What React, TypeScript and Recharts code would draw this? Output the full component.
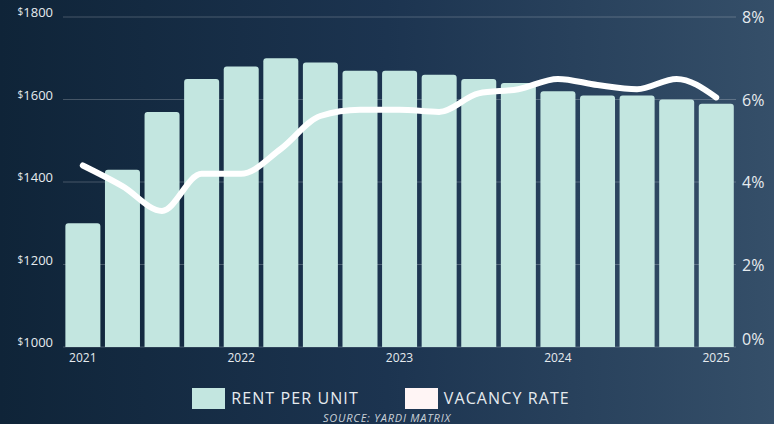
import { ComposedChart, Bar, Line, XAxis, YAxis, CartesianGrid, Legend } from "recharts";

// quarterly, 2021 Q1 .. 2025 Q1
const quarters = [
  "2021 Q1", "2021 Q2", "2021 Q3", "2021 Q4",
  "2022 Q1", "2022 Q2", "2022 Q3", "2022 Q4",
  "2023 Q1", "2023 Q2", "2023 Q3", "2023 Q4",
  "2024 Q1", "2024 Q2", "2024 Q3", "2024 Q4",
  "2025 Q1",
];
const rentPerUnit = [1300, 1430, 1570, 1650, 1680, 1700, 1690, 1670, 1670, 1660, 1650, 1640, 1620, 1610, 1610, 1600, 1590];
const vacancyRate = [4.4, 3.9, 3.3, 4.2, 4.2, 4.8, 5.6, 5.75, 5.75, 5.7, 6.15, 6.25, 6.5, 6.35, 6.25, 6.5, 6.05];

const rentTicks = [1000, 1200, 1400, 1600, 1800];
const vacancyTicks = [0, 2, 4, 6, 8];

const FONT = "'Open Sans', sans-serif";
const TEXT = "#e6ebef";
const BAR_COLOR = "#c3e6e0";

const LEGEND_ITEMS = [
  { label: "RENT PER UNIT", color: BAR_COLOR },
  { label: "VACANCY RATE", color: "#fff5f5" },
];

const data = quarters.map((q, i) => ({
  quarter: q,
  rent: rentPerUnit[i],
  vacancy: vacancyRate[i],
}));

const RentTick = ({ x, y, payload }: any) => (
  <text x={x} y={y} dy={5} textAnchor="end" fill={TEXT} fontFamily={FONT}>
    <tspan fontSize={10} dy={-2}>$</tspan>
    <tspan fontSize={13} dy={2}>{payload.value}</tspan>
  </text>
);

const VacancyTick = ({ x, y, payload }: any) => (
  <text x={x} y={payload.value === 0 ? y - 8 : y} dy={6} textAnchor="start" fill={TEXT} fontFamily={FONT} fontSize={16}>
    {payload.value}%
  </text>
);

const LegendContent = () => (
  <div style={{ height: 47, boxSizing: "border-box", paddingTop: 10, fontFamily: FONT, color: TEXT, textAlign: "center", overflow: "hidden" }}>
    <div style={{ display: "flex", justifyContent: "center", gap: 46, height: 22, alignItems: "center", marginLeft: -12 }}>
      {LEGEND_ITEMS.map((item) => (
        <div key={item.label} style={{ display: "flex", alignItems: "center", gap: 6 }}>
          <span style={{ width: 33, height: 21, background: item.color, display: "inline-block" }} />
          <span style={{ fontSize: 16, letterSpacing: 1.1 }}>{item.label}</span>
        </div>
      ))}
    </div>
    <div style={{ fontSize: 11, fontStyle: "italic", letterSpacing: 0.8, color: "#c9d1d8", lineHeight: "14px", marginTop: 2 }}>
      SOURCE: YARDI MATRIX
    </div>
  </div>
);

export default function App() {
  return (
    <div
      style={{
        position: "absolute",
        top: 0,
        left: 0,
        width: 774,
        height: 424,
        background: "linear-gradient(90deg, #0f2438 0%, #1c3450 50%, #354f69 100%)",
      }}
    >
      <ComposedChart width={774} height={424} data={data} margin={{ top: 17, right: 0, bottom: 0, left: 0 }} barCategoryGap="6%">
        <CartesianGrid vertical={false} stroke="rgba(255,255,255,0.22)" yAxisId="rent" />
        <XAxis
          dataKey="quarter"
          interval={3}
          axisLine={false}
          tickLine={false}
          height={30}
          tickMargin={0}
          tick={{ fill: TEXT, fontSize: 12, fontFamily: FONT }}
          tickFormatter={(v: string) => v.slice(0, 4)}
        />
        <YAxis
          yAxisId="rent"
          width={63}
          domain={[1000, 1800]}
          ticks={rentTicks}
          axisLine={false}
          tickLine={false}
          tickSize={0}
          tickMargin={10}
          tick={<RentTick />}
        />
        <YAxis
          yAxisId="vacancy"
          orientation="right"
          width={38}
          domain={[0, 8]}
          ticks={vacancyTicks}
          axisLine={false}
          tickLine={false}
          tickSize={0}
          tickMargin={6}
          tick={<VacancyTick />}
        />
        <Legend verticalAlign="bottom" height={47} content={<LegendContent />} />
        <Bar yAxisId="rent" dataKey="rent" name="Rent per unit" fill={BAR_COLOR} radius={[3, 3, 0, 0]} isAnimationActive={false} />
        <Line
          yAxisId="vacancy"
          type="monotone"
          dataKey="vacancy"
          name="Vacancy rate"
          stroke="#ffffff"
          strokeWidth={6}
          strokeLinecap="round"
          dot={false}
          activeDot={false}
          isAnimationActive={false}
        />
      </ComposedChart>
    </div>
  );
}
